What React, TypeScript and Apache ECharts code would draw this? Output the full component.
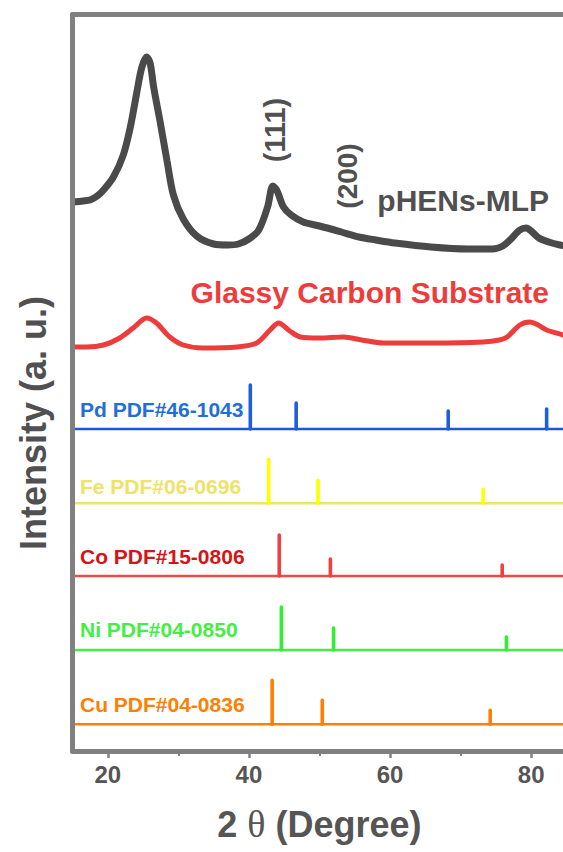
import React, { useEffect, useRef } from "react";
import * as echarts from "echarts";

// ---------- data ----------
const xMajorTicks = [20, 40, 60, 80];
const xMinorTicks = [30, 50, 70];

// pHENs-MLP pattern (2θ, intensity a.u. incl. stacking offset)
const sampleTheta = [15.0, 16.5, 17.5, 18.5, 19.4, 20.8, 22.2, 23.2, 24.1, 24.8, 25.5, 26.0, 26.5, 27.4, 28.4, 29.3, 30.7, 32.6, 35.0, 37.0, 38.5, 40.0, 41.4, 42.65, 43.4, 44.0, 44.9, 46.0, 47.7, 50.0, 53.1, 55.6, 58.0, 60.7, 65.8, 70.9, 74.5, 76.0, 77.0, 78.4, 79.3, 80.0, 81.1, 82.5, 84.1, 85.0];
const sampleIntensity = [549, 550, 551, 555, 561, 574, 596, 624, 658, 683, 694, 688, 664, 630, 590, 556, 532, 515, 507, 506, 507, 512, 521, 544, 565, 560, 544, 536, 529, 525, 519, 514, 511, 508, 504, 502, 502, 505, 511, 521, 523, 520, 513, 509, 506, 505];

// Glassy carbon substrate pattern
const substrateTheta = [15.0, 17.0, 19.4, 21.7, 23.6, 25.5, 26.9, 28.8, 30.7, 33.5, 38.3, 41.1, 43.0, 44.2, 45.8, 47.3, 50.0, 53.4, 56.0, 59.1, 66.2, 73.2, 75.5, 76.6, 78.4, 79.8, 81.0, 82.2, 84.6, 85.0];
const substrateIntensity = [404, 404, 406, 413, 423, 433, 428, 414, 406, 403, 404, 408, 421, 428, 420, 414, 413, 414, 411, 408, 408, 409, 411, 414, 426, 429, 426, 421, 416, 415];

// Standard reference cards
const refNames = ["Pd PDF#46-1043", "Fe PDF#06-0696", "Co PDF#15-0806", "Ni PDF#04-0850", "Cu PDF#04-0836"];
const refOffsets = [322, 247.7, 175, 101, 26.7];
const pdPeaks = [40.2, 46.7, 68.25, 82.2];
const pdHeights = [44, 26, 18, 20];
const fePeaks = [42.8, 49.8, 73.2];
const feHeights = [44, 23, 14];
const coPeaks = [44.3, 51.55, 75.9];
const coHeights = [41, 17, 11];
const niPeaks = [44.6, 52.0, 76.5];
const niHeights = [43, 22, 13];
const cuPeaks = [43.3, 50.4, 74.2];
const cuHeights = [44, 24, 14];

// ---------- styling ----------
const X_MIN = 15;
const X_MAX = 85;
const Y_MAX = 736.5;
const FONT = "'Liberation Sans', Arial, sans-serif";
const SERIF = "'Liberation Serif', 'DejaVu Serif', serif";
const FRAME = "#808080";
const TEXT = "#505050";

const refPeaks = [pdPeaks, fePeaks, coPeaks, niPeaks, cuPeaks];
const refHeights = [pdHeights, feHeights, coHeights, niHeights, cuHeights];
const stickColors = ["#1d5fd8", "#ffff00", "#ee4040", "#33ee33", "#ff8000"];
const baseColors = ["#1d55e0", "#eee46a", "#ee4848", "#44ee44", "#ff8000"];
const labelColors = ["#1f6fd6", "#eee26a", "#d41515", "#44ee44", "#ff8000"];
const labelY = [409, 486, 556, 629, 704];

export default function App() {
  const ref = useRef<HTMLDivElement>(null);

  useEffect(() => {
    if (!ref.current) return;
    const chart = echarts.init(ref.current, null, { renderer: "svg" });

    const series: any[] = [
      {
        type: "line",
        data: sampleTheta.map((t, i) => [t, sampleIntensity[i]]),
        symbol: "none",
        smooth: 0.3,
        lineStyle: { color: "#4a4a4a", width: 7 },
        z: 3,
      },
      {
        type: "line",
        data: substrateTheta.map((t, i) => [t, substrateIntensity[i]]),
        symbol: "none",
        smooth: 0.3,
        lineStyle: { color: "#ee3c3c", width: 5 },
        z: 3,
      },
    ];

    refNames.forEach((_, k) => {
      const base = refOffsets[k];
      series.push({
        type: "line",
        data: [
          [X_MIN, base],
          [X_MAX, base],
        ],
        symbol: "none",
        lineStyle: { color: baseColors[k], width: 2.5 },
        z: 3,
      });
      series.push({
        type: "custom",
        data: refPeaks[k].map((p, i) => [p, refHeights[k][i]]),
        encode: { x: 0, y: 1 },
        z: 4,
        renderItem: (params: any, api: any) => {
          const x = api.value(0);
          const h = api.value(1);
          const p0 = api.coord([x, base]);
          const p1 = api.coord([x, base + h]);
          return {
            type: "line",
            shape: { x1: p0[0], y1: p0[1], x2: p1[0], y2: p1[1] },
            style: { stroke: stickColors[k], lineWidth: 3.6, lineCap: "round" },
          };
        },
      });
    });

    const graphics: any[] = [
      {
        type: "text",
        x: 33,
        y: 423,
        rotation: Math.PI / 2,
        style: {
          text: "Intensity (a. u.)",
          font: `bold 36px ${FONT}`,
          fill: TEXT,
          align: "center",
          verticalAlign: "middle",
        },
      },
      {
        type: "text",
        x: 549,
        y: 200,
        style: { text: "pHENs-MLP", font: `bold 30px ${FONT}`, fill: TEXT, align: "right", verticalAlign: "middle" },
      },
      {
        type: "text",
        x: 549,
        y: 292,
        style: {
          text: "Glassy Carbon Substrate",
          font: `bold 30px ${FONT}`,
          fill: "#ee3c3c",
          align: "right",
          verticalAlign: "middle",
        },
      },
      {
        type: "text",
        x: 275,
        y: 130,
        rotation: Math.PI / 2,
        style: { text: "(111)", font: `bold 29px ${FONT}`, fill: TEXT, align: "center", verticalAlign: "middle" },
      },
      {
        type: "text",
        x: 347,
        y: 176,
        rotation: Math.PI / 2,
        style: { text: "(200)", font: `bold 28px ${FONT}`, fill: TEXT, align: "center", verticalAlign: "middle" },
      },
    ];
    refNames.forEach((name, k) => {
      graphics.push({
        type: "text",
        x: 80,
        y: labelY[k],
        style: { text: name, font: `bold 21px ${FONT}`, fill: labelColors[k], align: "left", verticalAlign: "middle" },
      });
    });

    chart.setOption({
      animation: false,
      grid: { left: 72.5, top: 14.5, width: 493.9, height: 736.5, show: false },
      xAxis: [
        {
          type: "value",
          min: X_MIN,
          max: X_MAX,
          position: "bottom",
          z: 10,
          splitLine: { show: false },
          axisLine: { show: true, lineStyle: { color: FRAME, width: 5 } },
          axisTick: { show: true, customValues: xMajorTicks, length: 7, lineStyle: { color: FRAME, width: 2.5 } },
          axisLabel: {
            customValues: xMajorTicks,
            margin: 11,
            fontSize: 24,
            fontWeight: "bold",
            fontFamily: FONT,
            color: "#555555",
          },
          name: "{a|2 }{t|θ}{a| (Degree)}",
          nameLocation: "middle",
          nameGap: 54,
          nameTextStyle: {
            fontSize: 36,
            fontWeight: "bold",
            fontFamily: FONT,
            color: "#555555",
            rich: {
              a: { fontSize: 36, fontWeight: "bold", fontFamily: FONT, color: "#555555" },
              t: { fontSize: 38, fontWeight: "normal", fontFamily: SERIF, color: "#555555" },
            },
          },
        },
        {
          type: "value",
          min: X_MIN,
          max: X_MAX,
          position: "bottom",
          z: 9,
          splitLine: { show: false },
          axisLine: { show: false },
          axisTick: { show: true, customValues: xMinorTicks, length: 5, lineStyle: { color: FRAME, width: 2 } },
          axisLabel: { show: false },
        },
        {
          type: "value",
          min: X_MIN,
          max: X_MAX,
          position: "top",
          z: 10,
          splitLine: { show: false },
          axisLine: { show: true, lineStyle: { color: FRAME, width: 5 } },
          axisTick: { show: false },
          axisLabel: { show: false },
        },
      ],
      yAxis: [
        {
          type: "value",
          min: 0,
          max: Y_MAX,
          position: "left",
          z: 10,
          splitLine: { show: false },
          axisLine: { show: true, lineStyle: { color: FRAME, width: 5 } },
          axisTick: { show: false },
          axisLabel: { show: false },
        },
        {
          type: "value",
          min: 0,
          max: Y_MAX,
          position: "right",
          z: 10,
          splitLine: { show: false },
          axisLine: { show: true, lineStyle: { color: FRAME, width: 5 } },
          axisTick: { show: false },
          axisLabel: { show: false },
        },
      ],
      series,
      graphic: graphics,
    });

    return () => chart.dispose();
  }, []);

  return (
    <div style={{ position: "fixed", left: 0, top: 0, width: 563, height: 852, overflow: "hidden", background: "#fff" }}>
      <div ref={ref} style={{ width: 600, height: 852 }} />
    </div>
  );
}
